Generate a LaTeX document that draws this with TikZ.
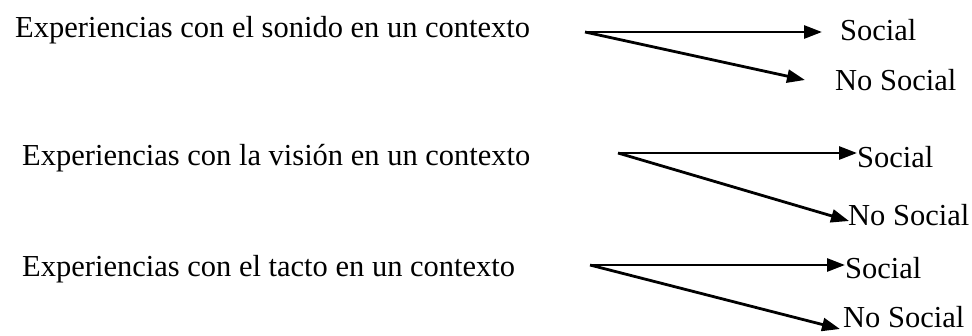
\documentclass[tikz,border=0pt]{standalone}
\usepackage{fontspec}
\setmainfont{Liberation Serif}
\usetikzlibrary{arrows.meta}

\tikzset{
  lbl/.style={anchor=west, inner sep=0pt, font=\rmfamily\fontsize{30.5}{36}\selectfont},
  arr/.style={line width=2.8pt, -{Triangle[length=18pt,width=13pt]}}
}

\begin{document}
\begin{tikzpicture}[x=1pt,y=-1pt]
\useasboundingbox (0,0) rectangle (972,335);

% Sonido
\node[lbl] (exp1) at (15,30) {Experiencias con el sonido en un contexto};
\coordinate (s1) at (585,32);
\coordinate (t1a) at (822,32);
\coordinate (t1b) at (805,80);
\node[lbl] (soc1) at (840,30) {Social};
\node[lbl] (nos1) at (835,80) {No Social};
\draw[arr] (s1) -- (t1a);
\draw[arr] (s1) -- (t1b);

% Vision
\node[lbl] (exp2) at (22,158) {Experiencias con la visión en un contexto};
\coordinate (s2) at (618,153);
\coordinate (t2a) at (857,153);
\coordinate (t2b) at (849,221);
\node[lbl] (soc2) at (857,157) {Social};
\node[lbl] (nos2) at (848,215) {No Social};
\draw[arr] (s2) -- (t2a);
\draw[arr] (s2) -- (t2b);

% Tacto
\node[lbl] (exp3) at (22,269) {Experiencias con el tacto en un contexto};
\coordinate (s3) at (590,265);
\coordinate (t3a) at (845,265);
\coordinate (t3b) at (840,329);
\node[lbl] (soc3) at (845,268) {Social};
\node[lbl] (nos3) at (843,317) {No Social};
\draw[arr] (s3) -- (t3a);
\draw[arr] (s3) -- (t3b);
\end{tikzpicture}
\end{document}
